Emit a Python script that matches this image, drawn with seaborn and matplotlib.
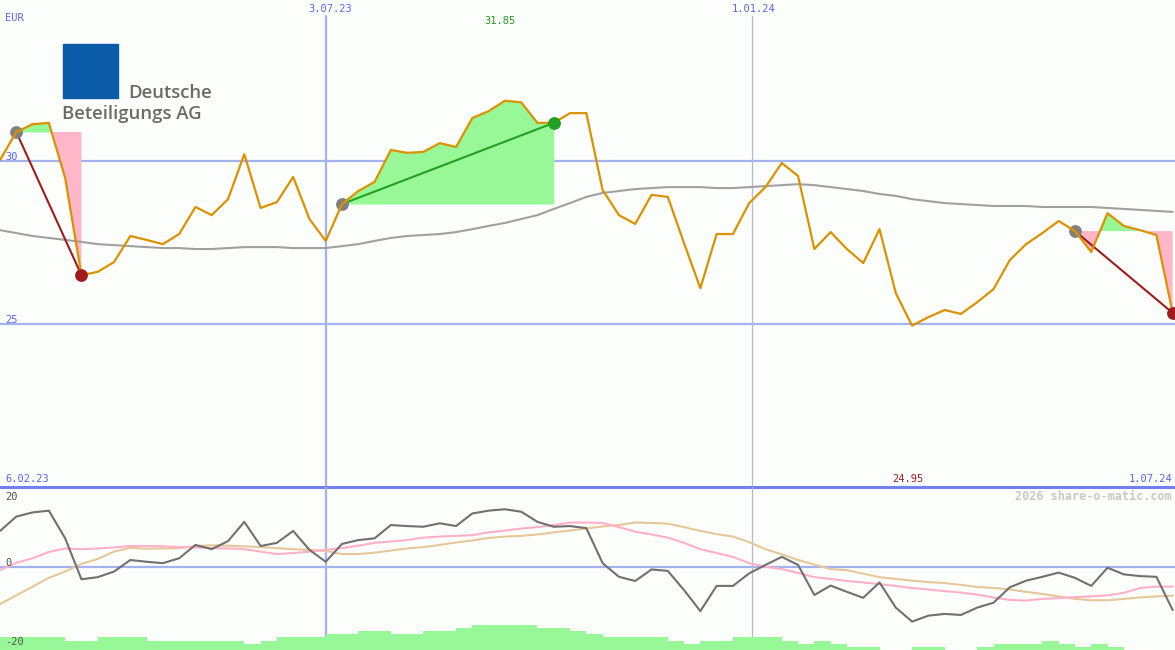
import numpy as np
import pandas as pd
import seaborn as sns
import matplotlib.pyplot as plt
from matplotlib.patches import Rectangle
import matplotlib.transforms as mtransforms

# weekly closes, Deutsche Beteiligungs AG, EUR
dates = pd.date_range("2023-02-13", "2024-07-01", freq="W-MON")

price = [30.03, 30.89, 31.13, 31.17, 29.48, 26.50, 26.60, 26.90, 27.70, 27.58,
         27.45, 27.76, 28.59, 28.34, 28.83, 30.21, 28.56, 28.74, 29.51, 28.22,
         27.55, 28.68, 29.08, 29.36, 30.34, 30.25, 30.28, 30.55, 30.43, 31.32,
         31.53, 31.85, 31.80, 31.17, 31.17, 31.47, 31.47, 29.11, 28.34, 28.07,
         28.96, 28.90, 27.48, 26.10, 27.76, 27.76, 28.71, 29.20, 29.94, 29.54,
         27.30, 27.82, 27.30, 26.87, 27.91, 25.95, 24.95, 25.21, 25.43, 25.31,
         25.67, 26.07, 26.96, 27.45, 27.79, 28.16, 27.85, 27.21, 28.40, 28.01,
         27.88, 27.73, 25.34]

moving_avg = [27.88, 27.79, 27.70, 27.64, 27.58, 27.52, 27.45, 27.42, 27.39, 27.36,
              27.33, 27.33, 27.30, 27.30, 27.33, 27.36, 27.36, 27.36, 27.33, 27.33,
              27.33, 27.39, 27.45, 27.55, 27.64, 27.70, 27.73, 27.76, 27.82, 27.91,
              28.01, 28.10, 28.22, 28.34, 28.53, 28.71, 28.90, 29.02, 29.08, 29.14,
              29.17, 29.20, 29.20, 29.20, 29.17, 29.17, 29.20, 29.23, 29.26, 29.29,
              29.26, 29.20, 29.14, 29.08, 28.99, 28.93, 28.83, 28.77, 28.71, 28.68,
              28.65, 28.62, 28.62, 28.62, 28.59, 28.59, 28.59, 28.59, 28.56, 28.53,
              28.50, 28.47, 28.44]

momentum = [10.3, 14.4, 15.6, 16.1, 8.2, -3.5, -2.9, -1.3, 2.0, 1.5,
            1.1, 2.5, 6.3, 5.1, 7.4, 12.9, 6.0, 6.9, 10.3, 4.9,
            1.5, 6.6, 7.7, 8.2, 12.0, 11.7, 11.5, 12.5, 11.7, 15.3,
            16.1, 16.5, 15.8, 12.9, 11.5, 11.7, 11.1, 1.1, -2.8, -4.0,
            -0.7, -1.1, -6.6, -12.6, -5.4, -5.4, -1.8, 0.6, 2.9, 0.6,
            -8.0, -5.3, -7.1, -8.8, -4.4, -11.6, -15.6, -13.9, -13.4, -13.7,
            -11.6, -10.2, -5.8, -3.9, -2.8, -1.6, -3.1, -5.4, -0.2, -2.1,
            -2.6, -2.8, -12.3]

signal_fast = [-0.9, 1.2, 2.5, 4.3, 5.3, 5.1, 5.3, 5.6, 6.0, 6.0,
               5.9, 5.7, 5.6, 5.4, 5.3, 5.1, 4.4, 3.7, 4.0, 4.4,
               4.9, 5.4, 6.1, 6.9, 7.3, 7.7, 8.4, 8.7, 8.9, 9.1,
               9.9, 10.4, 11.0, 11.4, 12.0, 12.7, 12.7, 12.6, 11.4, 10.1,
               9.3, 8.4, 6.9, 5.1, 4.0, 2.9, 1.1, 0.1, -0.6, -1.7,
               -2.9, -3.4, -4.0, -4.4, -4.9, -5.4, -6.0, -6.4, -6.9, -7.3,
               -7.9, -8.7, -9.4, -9.6, -9.1, -8.9, -8.6, -8.4, -8.1, -7.4,
               -6.0, -5.6, -5.6]

signal_slow = [-10.6, -8.1, -5.6, -3.1, -1.3, 0.9, 2.3, 4.4, 5.5, 5.2,
               5.3, 5.4, 6.0, 6.2, 6.1, 5.9, 5.7, 5.4, 5.1, 4.9,
               4.6, 3.7, 3.7, 4.1, 4.7, 5.3, 5.7, 6.3, 7.0, 7.6,
               8.3, 8.7, 8.9, 9.3, 9.9, 10.4, 11.0, 11.6, 12.0, 12.7,
               12.6, 12.4, 11.4, 10.3, 9.4, 8.7, 7.1, 5.1, 3.6, 2.0,
               0.7, -0.6, -0.9, -1.9, -2.9, -3.4, -3.9, -4.3, -4.6, -5.1,
               -5.7, -6.0, -6.4, -7.1, -7.7, -8.4, -9.1, -9.5, -9.5, -9.1,
               -8.7, -8.4, -8.2]

volume = [4, 4, 4, 4, 3, 3, 4, 4, 4, 3,
          3, 3, 3, 3, 3, 2, 3, 4, 4, 4,
          5, 5, 6, 6, 5, 5, 6, 6, 7, 8,
          8, 8, 8, 7, 7, 6, 5, 4, 4, 4,
          4, 3, 2, 3, 3, 4, 4, 4, 3, 2,
          3, 2, 1, 1, 0, 0, 1, 1, 0, 0,
          1, 2, 2, 2, 3, 2, 1, 2, 1, 0,
          0, 0]

# trade signals: (start week, end week, kind)
signals = [(1, 5, "sell"), (21, 34, "buy"), (66, 72, "sell")]

top_dates = ["2023-07-03", "2024-01-01"]
top_labels = ["3.07.23", "1.01.24"]
period_labels = ["6.02.23", "1.07.24"]
price_levels = [30, 25]
osc_levels = [20, 0, -20]
osc_label_shift = [0, 4, -5]   # px, as placed on the original

BLUE_TXT = "#5a64ee"
GRID = "#a4b2f0"
BG = "#fcfefc"

sns.set_style("white")
plt.rcParams["font.family"] = ["DejaVu Sans Mono", "DejaVu Sans"]

fig = plt.figure(figsize=(11.75, 6.5), dpi=100, facecolor=BG)
ax = fig.add_axes([0, 163 / 650, 1, 487 / 650], facecolor=BG)
ax2 = fig.add_axes([0, 0, 1, 163 / 650], facecolor=BG)

price_s = pd.Series(price, index=dates)
x0, x1 = dates[0], dates[-1] + pd.Timedelta(days=1)

# ---- upper panel: price ----
for lvl in price_levels:
    ax.axhline(lvl, color=GRID, lw=1.6, zorder=1)
ax.axvline(pd.Timestamp(top_dates[0]), ymax=0.967, color=GRID, lw=1.6, zorder=1)
ax.axvline(pd.Timestamp(top_dates[1]) + pd.Timedelta(days=1), ymax=0.967,
           color="#b0b8e0", lw=0.9, zorder=1)

for s, e, kind in signals:
    seg = price_s.iloc[s:e + 1]
    lvl = seg.iloc[0]
    ax.fill_between(seg.index, seg.values, lvl, where=seg.values >= lvl,
                    interpolate=True, color="#98f898", lw=0, zorder=2)
    ax.fill_between(seg.index, seg.values, lvl, where=seg.values <= lvl,
                    interpolate=True, color="#ffb6c8", lw=0, zorder=2)

sns.lineplot(x=dates, y=moving_avg, ax=ax, color="#a0a0a0", lw=1.5, zorder=3)

for s, e, kind in signals:
    c = "#22a022" if kind == "buy" else "#a01c1c"
    ax.plot([dates[s], dates[e]], [price[s], price[e]], color=c, lw=1.5, zorder=4)
    ax.scatter([dates[s]], [price[s]], s=85, color="#808080", zorder=4, lw=0)

sns.lineplot(x=dates, y=price, ax=ax, color="#dc9200", lw=1.6, zorder=5)

for s, e, kind in signals:
    c = "#22a022" if kind == "buy" else "#a01c1c"
    ax.scatter([dates[e]], [price[e]], s=85, color=c, zorder=6, lw=0)

ax.set_xlim(x0, x1)
ax.set_ylim(20.0, 34.94)
ax.set_xticks([])
ax.set_yticks([])
ax.set_xlabel("")
ax.set_ylabel("")
for sp in ax.spines.values():
    sp.set_visible(False)

tr = mtransforms.blended_transform_factory(ax.transData, ax.transAxes)
for d, lab in zip(top_dates, top_labels):
    ax.text(pd.Timestamp(d) + pd.Timedelta(days=2), 1 - 9 / 487, lab, transform=tr,
            ha="center", va="center", fontsize=7.5, color=BLUE_TXT)
ax.text(5 / 1175, 1 - 18 / 487, "EUR", transform=ax.transAxes, ha="left", va="center",
        fontsize=7.5, color=BLUE_TXT)
for lvl in price_levels:
    ax.text(5 / 1175, lvl + 0.13, str(lvl), transform=mtransforms.blended_transform_factory(
        ax.transAxes, ax.transData), ha="left", va="center", fontsize=7.5, color=BLUE_TXT)

i_hi = int(np.argmax(price))
i_lo = int(np.argmin(price))
ax.text(dates[i_hi] - pd.Timedelta(days=2), 1 - 21 / 487, f"{price[i_hi]:.2f}", transform=tr,
        ha="center", va="center", fontsize=7.5, color="#229922")
ax.text(dates[i_lo] - pd.Timedelta(days=2), 8 / 487, f"{price[i_lo]:.2f}", transform=tr,
        ha="center", va="center", fontsize=7.5, color="#a01c1c")
ax.text(5 / 1175, 8 / 487, period_labels[0], transform=ax.transAxes, ha="left", va="center",
        fontsize=7.5, color=BLUE_TXT)
ax.text(1 - 3 / 1175, 8 / 487, period_labels[1], transform=ax.transAxes, ha="right", va="center",
        fontsize=7.5, color=BLUE_TXT)

# logo
fig.patches.append(Rectangle((63 / 1175, 1 - 98 / 650), 55 / 1175, 54 / 650,
                             transform=fig.transFigure, color="#0b5ca8", zorder=10))
fig.text(128 / 1175, 1 - 93 / 650, "Deutsche", family="Open Sans", weight="semibold",
         fontsize=13.3, color="#6a6a6a", ha="left", va="center")
fig.text(62 / 1175, 1 - 114 / 650, "Beteiligungs AG", family="Open Sans", weight="semibold",
         fontsize=13.3, color="#6a6a6a", ha="left", va="center")

# ---- lower panel: oscillator ----
y_lo, y_hi = -23.71, 22.86
ax2.axhline(0, color=GRID, lw=1.6, zorder=1)
ax2.axhline(y_hi, color="#7080ee", lw=2.2, zorder=1, clip_on=False)
ax2.axvline(pd.Timestamp(top_dates[0]), color=GRID, lw=1.6, zorder=1)
ax2.axvline(pd.Timestamp(top_dates[1]) + pd.Timedelta(days=1), color="#b0b8e0", lw=0.9, zorder=1)

ax2.bar(dates[:-1], np.array(volume) * 0.9, width=7, align="edge", bottom=y_lo,
        color="#98f898", lw=0, zorder=2)
sns.lineplot(x=dates, y=signal_slow, ax=ax2, color="#e6c898", lw=1.5, zorder=3)
sns.lineplot(x=dates, y=signal_fast, ax=ax2, color="#ffb0c8", lw=1.5, zorder=3)
sns.lineplot(x=dates, y=momentum, ax=ax2, color="#707070", lw=1.5, zorder=4)

ax2.set_xlim(x0, x1)
ax2.set_ylim(y_lo, y_hi)
ax2.set_xticks([])
ax2.set_yticks([])
ax2.set_xlabel("")
ax2.set_ylabel("")
for sp in ax2.spines.values():
    sp.set_visible(False)

for lvl, dy in zip(osc_levels, osc_label_shift):
    ax2.annotate(str(lvl), xy=(5 / 1175, lvl), xycoords=("axes fraction", "data"),
                 xytext=(0, dy * 0.72), textcoords="offset points",
                 ha="left", va="center", fontsize=7.5, color="#505050", zorder=5)
ax2.text(1 - 3 / 1175, 1 - 9 / 163, "2026 share-o-matic.com", transform=ax2.transAxes,
         ha="right", va="center", fontsize=8.5, weight="bold", color="#c8c8c8")

fig.savefig("out.png", dpi=100, facecolor=BG)
